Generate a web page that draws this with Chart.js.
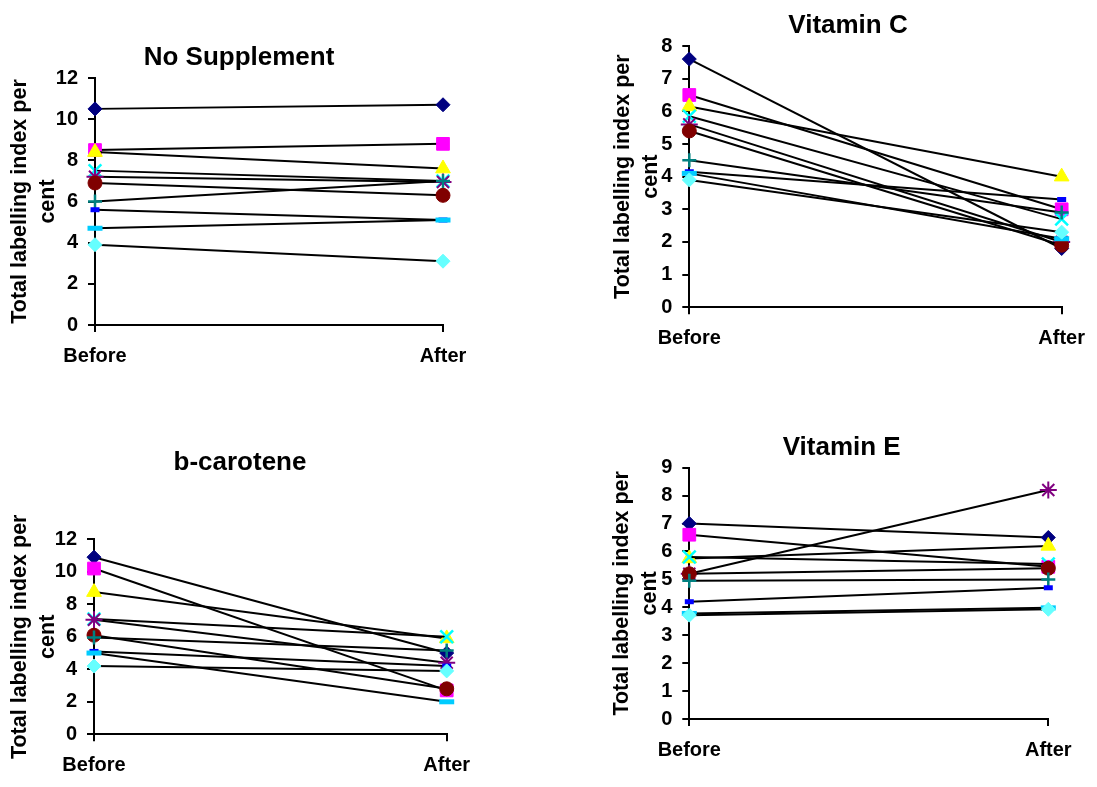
<!DOCTYPE html>
<html><head><meta charset="utf-8">
<script src="https://cdn.jsdelivr.net/npm/chart.js@4"></script>
<style>
html,body{margin:0;padding:0;background:#fff;}
#wrap{position:relative;width:1097px;height:787px;overflow:hidden;background:#fff;}
canvas{position:absolute;}
</style></head><body>
<div id="wrap">
<canvas id="c1" width="548" height="393" style="left:0;top:0"></canvas>
<canvas id="c2" width="549" height="393" style="left:548px;top:0"></canvas>
<canvas id="c3" width="548" height="394" style="left:0;top:393px"></canvas>
<canvas id="c4" width="549" height="394" style="left:548px;top:393px"></canvas>
</div>
<script>
// ---- data ----
const categories = ['Before', 'After'];
const seriesNames = ['Subject 1','Subject 2','Subject 3','Subject 4','Subject 5','Subject 6','Subject 7','Subject 8','Subject 9','Subject 10'];
const yAxisTitle = ['Total labelling index per', 'cent'];

const noSuppBefore = [10.5, 8.5, 8.4, 7.5, 7.2, 6.9, 6.0, 5.6, 4.7, 3.9];
const noSuppAfter  = [10.7, 8.8, 7.6, 7.0, 6.95, 6.3, 7.0, 5.1, 5.1, 3.1];

const vitCBefore = [7.6, 6.5, 6.15, 5.85, 5.6, 5.4, 4.5, 4.15, 4.1, 3.9];
const vitCAfter  = [1.8, 3.0, 4.0, 2.7, 2.0, 1.9, 2.9, 3.3, 2.1, 2.3];

const bCarBefore = [10.9, 10.2, 8.75, 7.1, 7.05, 6.1, 5.95, 5.1, 5.0, 4.2];
const bCarAfter  = [5.0, 2.7, 5.9, 6.0, 4.4, 2.8, 5.15, 4.2, 2.0, 3.9];

const vitEBefore = [7.0, 6.6, 5.75, 5.8, 5.2, 5.2, 4.95, 4.2, 3.78, 3.72];
const vitEAfter  = [6.5, 5.45, 6.2, 5.55, 8.2, 5.4, 5.0, 4.7, 3.98, 3.93];

// ---- styles ----
const FONT = '"Liberation Sans", Arial, Helvetica, sans-serif';
const markers = [
  {style:'rectRot',  r:7,   color:'#000080', bw:1},
  {style:'rect',     r:9,   color:'#FF00FF', bw:1},
  {style:'triangle', r:8.5, color:'#FFFF00', bw:1},
  {style:'crossRot', r:9,   color:'#00FFFF', bw:2.5},
  {style:'star',     r:8.5, color:'#800080', bw:2},
  {style:'circle',   r:7,   color:'#800000', bw:1},
  {style:'cross',    r:7,   color:'#008080', bw:2.5},
  {style:'line',     r:4.5, color:'#0000FF', bw:5},
  {style:'line',     r:7.5, color:'#00CCFF', bw:5},
  {style:'rectRot',  r:7,   color:'#66FFFF', bw:1}
];

const titlePlugin = {
  id: 'panelTitle',
  afterDraw(chart, args, opts) {
    const ctx = chart.ctx;
    ctx.save();
    ctx.font = 'bold 26px ' + FONT;
    ctx.fillStyle = '#000';
    ctx.textAlign = 'center';
    ctx.textBaseline = 'middle';
    ctx.fillText(opts.text, opts.x, opts.y);
    ctx.restore();
  }
};

function makePanel(id, title, before, after, cfg) {
  const datasets = seriesNames.map((name, i) => {
    const m = markers[i];
    return {
      label: name,
      data: [before[i], after[i]],
      borderColor: '#000',
      borderWidth: 2,
      pointStyle: m.style,
      pointRadius: m.r,
      pointHoverRadius: m.r,
      pointBackgroundColor: m.color,
      pointBorderColor: m.color,
      pointBorderWidth: m.bw,
      tension: 0,
      fill: false,
      clip: false,
      order: seriesNames.length - i
    };
  });
  new Chart(document.getElementById(id), {
    type: 'line',
    data: { labels: categories, datasets },
    plugins: [titlePlugin],
    options: {
      responsive: false,
      animation: false,
      events: [],
      layout: { padding: cfg.padding },
      plugins: {
        legend: { display: false },
        tooltip: { enabled: false },
        title: { display: false },
        panelTitle: { text: title, x: cfg.tx, y: cfg.ty }
      },
      scales: {
        x: {
          type: 'category',
          offset: false,
          grid: { display: true, drawOnChartArea: false, drawTicks: true, tickLength: 7, color: '#000', lineWidth: 2 },
          border: { display: true, color: '#000', width: 2 },
          ticks: { color: '#000', font: { family: FONT, size: 20, weight: 'bold' }, padding: 12, maxRotation: 0, autoSkip: false },
          afterFit: s => { s.height = 45; }
        },
        y: {
          min: 0, max: cfg.max,
          ticks: { stepSize: cfg.step, color: '#000', font: { family: FONT, size: 20, weight: 'bold' }, padding: 10 },
          grid: { display: true, drawOnChartArea: false, drawTicks: true, tickLength: 7, color: '#000', lineWidth: 2 },
          border: { display: true, color: '#000', width: 2 },
          title: { display: true, text: yAxisTitle, color: '#000', font: { family: FONT, size: 21.5, weight: 'bold', lineHeight: 1.3 }, padding: { top: 6, bottom: 0 } },
          afterFit: s => { s.width = cfg.yw; }
        }
      }
    }
  });
}

makePanel('c1', 'No Supplement', noSuppBefore, noSuppAfter,
  { max: 12, step: 2, yw: 95, padding: { left: 0, right: 105, top: 78, bottom: 23 }, tx: 239, ty: 58 });
makePanel('c2', 'Vitamin C', vitCBefore, vitCAfter,
  { max: 8, step: 1, yw: 86.3, padding: { left: 55, right: 35.3, top: 46, bottom: 40.7 }, tx: 300, ty: 26 });
makePanel('c3', 'b-carotene', bCarBefore, bCarAfter,
  { max: 12, step: 2, yw: 94, padding: { left: 0, right: 101.3, top: 146.3, bottom: 7.7 }, tx: 240, ty: 70 });
makePanel('c4', 'Vitamin E', vitEBefore, vitEAfter,
  { max: 9, step: 1, yw: 87.3, padding: { left: 54, right: 48.7, top: 74.7, bottom: 23 }, tx: 293.7, ty: 55 });
</script>
</body></html>
